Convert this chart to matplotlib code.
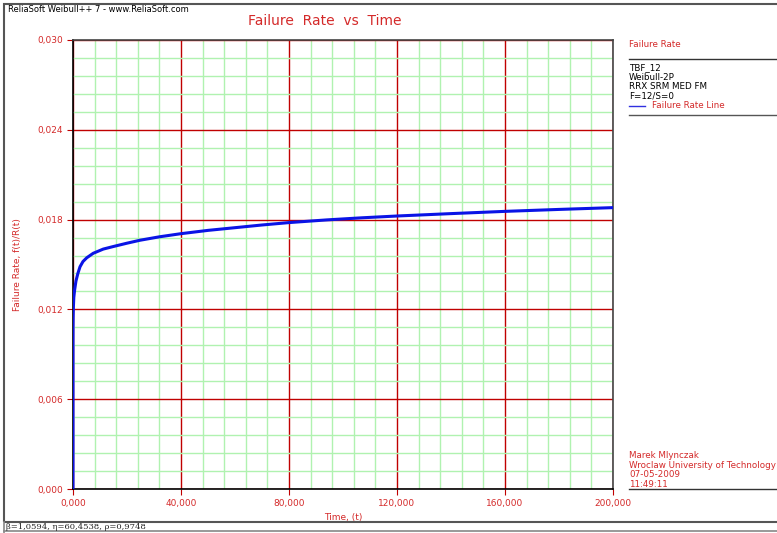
import numpy as np
import matplotlib.pyplot as plt
from matplotlib.lines import Line2D
from matplotlib.patches import Rectangle

# --- data ---
time = [0, 5, 20, 60, 150, 300, 600, 1100, 1800, 2600, 3700, 5100, 7500,
        11200, 14900, 19900, 24800, 32000, 40000, 50000, 60000, 70000, 80000,
        94000, 107000, 120000, 140000, 160000, 180000, 200000]
failure_rate = [0.0, 0.0100, 0.0108, 0.0115, 0.0122, 0.0128, 0.0133, 0.0139,
                0.0144, 0.01485, 0.0152, 0.01545, 0.01575, 0.01603, 0.0162,
                0.01642, 0.01662, 0.01685, 0.01706, 0.01728, 0.01746, 0.01764,
                0.0178, 0.01798, 0.01812, 0.01824, 0.0184, 0.01855, 0.01868,
                0.0188]

x_major = [0, 40000, 80000, 120000, 160000, 200000]
x_labels = ['0,000', '40,000', '80,000', '120,000', '160,000', '200,000']
y_major = [0.0, 0.006, 0.012, 0.018, 0.024, 0.030]
y_labels = ['0,000', '0,006', '0,012', '0,018', '0,024', '0,030']

legend_lines = ['TBF_12', 'Weibull-2P', 'RRX SRM MED FM', 'F=12/S=0']
author_lines = ['Marek Mlynczak', 'Wroclaw University of Technology',
                '07-05-2009', '11:49:11']
status = 'β=1,0594, η=60,4538, ρ=0,9748'

red = '#d42a2a'
major_c = '#c00000'
minor_c = '#b0f2b0'

W, H = 777, 533
fig = plt.figure(figsize=(W / 100, H / 100), dpi=100)

def fx(px):
    return px / W

def fy(py):
    return 1 - py / H

# outer frames
fig.add_artist(Rectangle((fx(4), fy(522)), fx(800), fy(4) - fy(522),
                         fill=False, ec='#555555', lw=1.5, transform=fig.transFigure))
fig.add_artist(Line2D([fx(4), 1], [fy(531), fy(531)], color='#888888', lw=1.2,
                      transform=fig.transFigure))
fig.add_artist(Line2D([fx(4), fx(4)], [fy(522), fy(533)], color='#888888', lw=1.2,
                      transform=fig.transFigure))

ax = fig.add_axes([fx(73), fy(489), fx(613) - fx(73), fy(40) - fy(489)])
ax.plot(time, failure_rate, color='#0a14e6', lw=2.2, zorder=5,
        solid_joinstyle='round')

ax.set_xlim(0, 200000)
ax.set_ylim(0, 0.030)
ax.set_xticks(x_major)
ax.set_xticklabels(x_labels)
ax.set_yticks(y_major)
ax.set_yticklabels(y_labels)
ax.set_xticks(np.arange(0, 200001, 8000), minor=True)
ax.set_yticks(np.arange(0, 0.0301, 0.0012), minor=True)
ax.grid(which='minor', color=minor_c, lw=1.0, zorder=1)
ax.grid(which='major', color=major_c, lw=1.0, zorder=2)
ax.set_axisbelow(True)
ax.tick_params(which='major', length=4, color=major_c, labelsize=6.5,
               labelcolor=red, pad=3)
ax.tick_params(which='minor', length=0)
for s in ['left', 'bottom']:
    ax.spines[s].set_color('black')
    ax.spines[s].set_linewidth(1.2)
for s in ['top', 'right']:
    ax.spines[s].set_color('#444444')
    ax.spines[s].set_linewidth(1.2)

ax.set_xlabel('Time, (t)', color=red, fontsize=6.5, labelpad=4)
ax.set_ylabel('Failure Rate, f(t)/R(t)', color=red, fontsize=6.5)
ax.yaxis.set_label_coords((22 - 73) / 540, 0.5)

fig.text(fx(8), fy(9), 'ReliaSoft Weibull++ 7 - www.ReliaSoft.com', fontsize=6,
         color='black', va='center')
fig.text(fx(325), fy(21), 'Failure  Rate  vs  Time', fontsize=10, color=red,
         ha='center', va='center')

# legend panel
fig.text(fx(629), fy(45), 'Failure Rate', fontsize=6.3, color=red, va='center')
fig.add_artist(Line2D([fx(629), 1], [fy(59), fy(59)], color='#333333', lw=1,
                      transform=fig.transFigure))
for i, t in enumerate(legend_lines):
    fig.text(fx(629), fy(68 + 9.4 * i), t, fontsize=6.3, color='black', va='center')
fig.add_artist(Line2D([fx(629), fx(645)], [fy(105.6), fy(105.6)], color='#3030e0',
                      lw=1, transform=fig.transFigure))
fig.text(fx(652), fy(105.6), 'Failure Rate Line', fontsize=6.3, color=red, va='center')
fig.add_artist(Line2D([fx(629), 1], [fy(115), fy(115)], color='#555555', lw=1,
                      transform=fig.transFigure))

# author block
for i, t in enumerate(author_lines):
    fig.text(fx(629), fy(456 + 9.4 * i), t, fontsize=6.3, color=red, va='center')
fig.add_artist(Line2D([fx(629), 1], [fy(489), fy(489)], color='#333333', lw=1,
                      transform=fig.transFigure))

fig.text(fx(6), fy(527), status, fontsize=6, color='#222222', va='center',
         family='DejaVu Serif')

fig.savefig('out.png', dpi=100)
